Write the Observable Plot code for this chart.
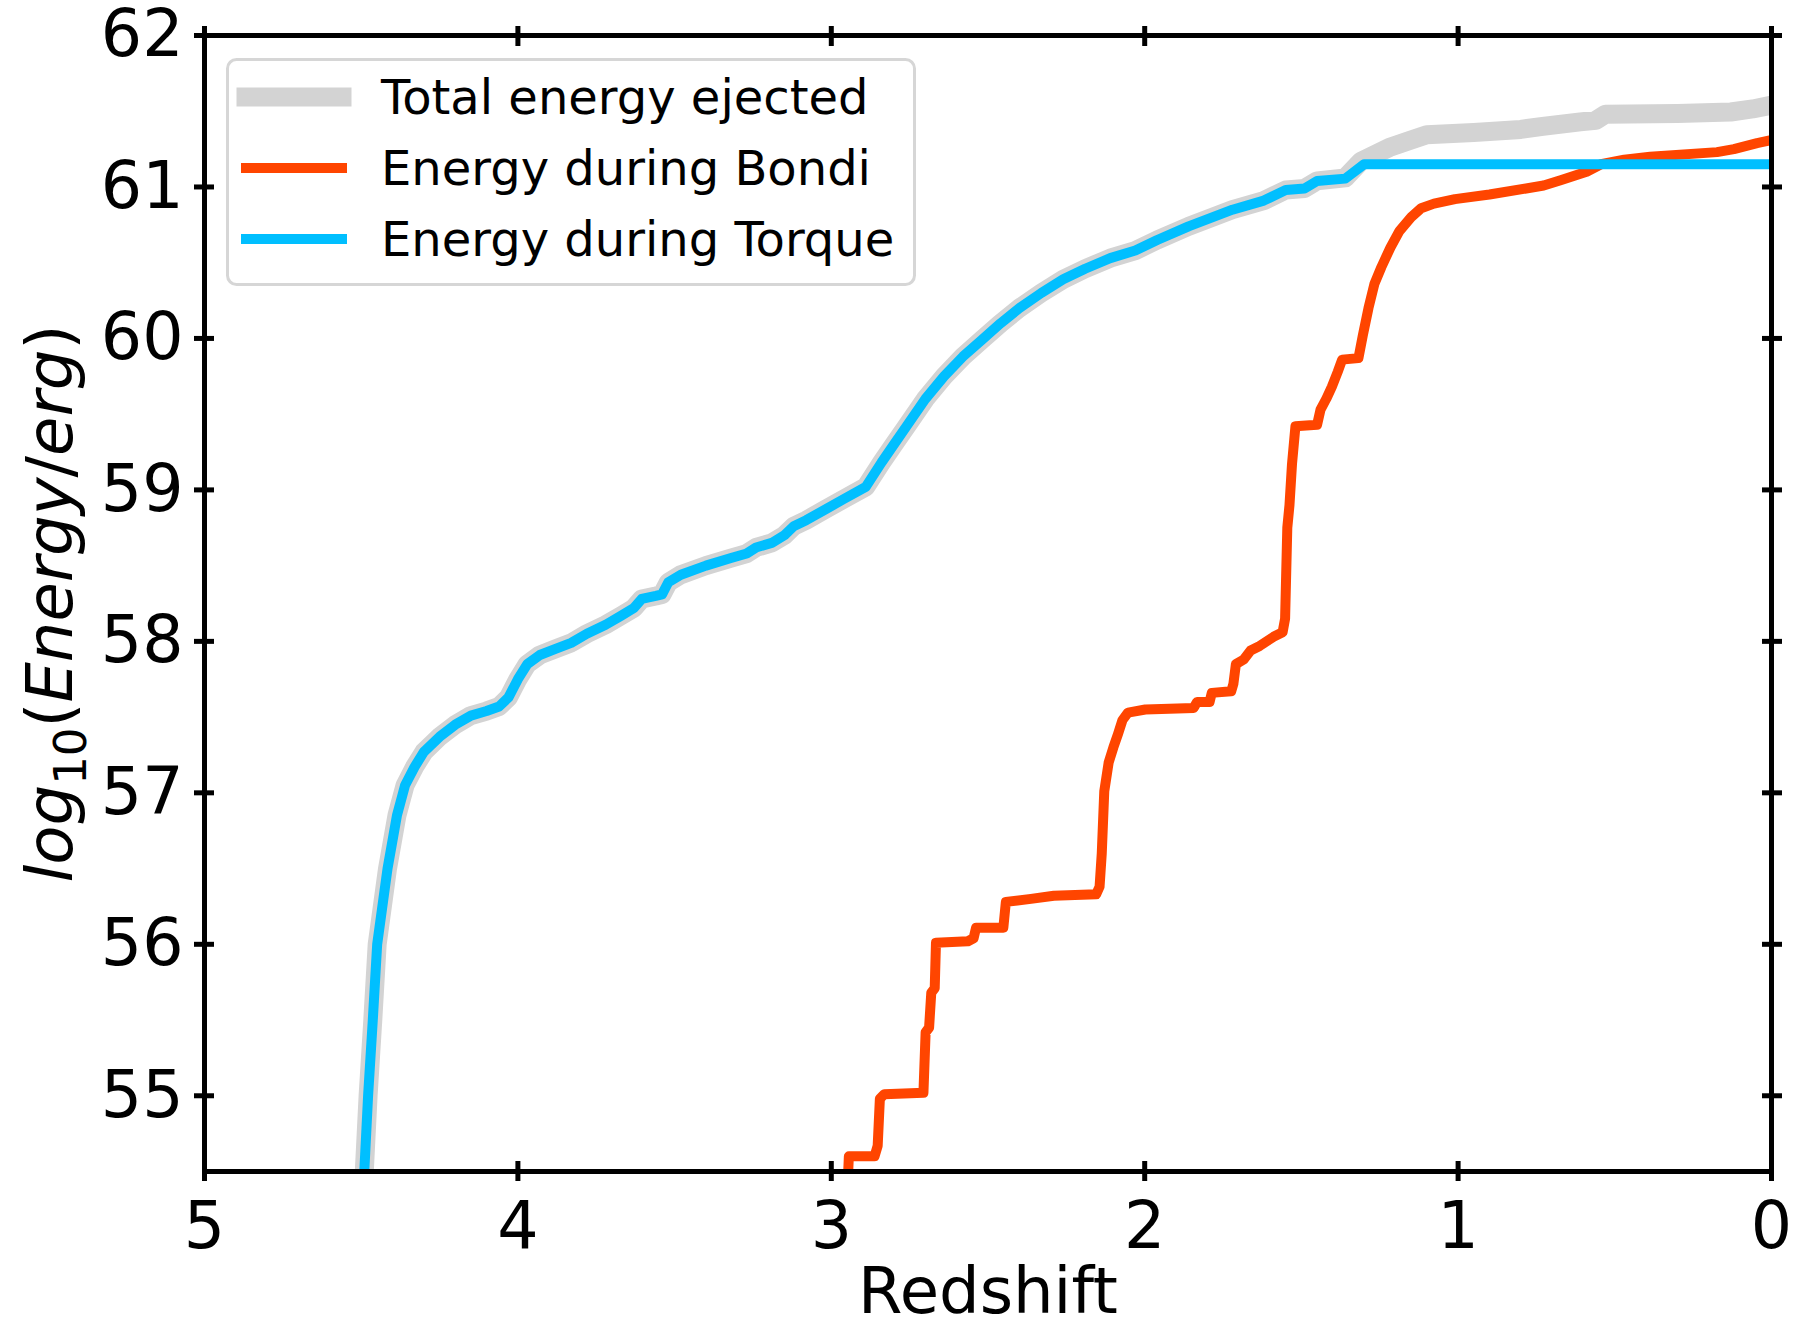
<!DOCTYPE html>
<html><head><meta charset="utf-8">
<script src="https://cdn.jsdelivr.net/npm/d3@7"></script>
<script src="https://cdn.jsdelivr.net/npm/@observablehq/plot@0.6"></script>
<style>
body{margin:0;background:#fff;}
#wrap{position:relative;width:1795px;height:1321px;font-family:"DejaVu Sans";}
#legend{position:absolute;left:226px;top:58px;}
</style></head><body><div id="wrap"></div>
<script>
// ---- data ----
const xTicks = [5, 4, 3, 2, 1, 0];
const yTicks = [55, 56, 57, 58, 59, 60, 61, 62];

const torqueZ = [4.495,4.478,4.463,4.449,4.416,4.386,4.36,4.33,4.30,4.25,4.20,4.15,4.10,4.06,4.03,4.00,3.97,3.93,3.88,3.83,3.78,3.72,3.67,3.63,3.605,3.56,3.54,3.52,3.48,3.40,3.32,3.27,3.24,3.19,3.15,3.12,3.08,3.02,2.96,2.89,2.84,2.80,2.76,2.70,2.64,2.58,2.52,2.46,2.40,2.33,2.26,2.19,2.11,2.03,1.96,1.86,1.72,1.62,1.55,1.49,1.45,1.36,1.30,0.0];
const torqueE = [54.3,55.0,55.5,56.0,56.5,56.85,57.05,57.17,57.27,57.37,57.45,57.51,57.54,57.57,57.63,57.75,57.85,57.91,57.95,57.99,58.05,58.11,58.17,58.22,58.28,58.3,58.31,58.39,58.44,58.5,58.55,58.58,58.62,58.65,58.7,58.76,58.8,58.87,58.94,59.02,59.18,59.3,59.42,59.6,59.75,59.88,59.99,60.1,60.2,60.3,60.39,60.46,60.53,60.58,60.65,60.74,60.85,60.91,60.98,60.99,61.04,61.055,61.15,61.15];

const totalZ = [4.495,4.478,4.463,4.449,4.416,4.386,4.36,4.33,4.30,4.25,4.20,4.15,4.10,4.06,4.03,4.00,3.97,3.93,3.88,3.83,3.78,3.72,3.67,3.63,3.605,3.56,3.54,3.52,3.48,3.40,3.32,3.27,3.24,3.19,3.15,3.12,3.08,3.02,2.96,2.89,2.84,2.80,2.76,2.70,2.64,2.58,2.52,2.46,2.40,2.33,2.26,2.19,2.11,2.03,1.96,1.86,1.72,1.62,1.55,1.49,1.45,1.36,1.31,1.22,1.15,1.10,0.95,0.80,0.73,0.61,0.56,0.53,0.30,0.13,0.06,0.0];
const totalE = [54.3,55.0,55.5,56.0,56.5,56.85,57.05,57.17,57.27,57.37,57.45,57.51,57.54,57.57,57.63,57.75,57.85,57.91,57.95,57.99,58.05,58.11,58.17,58.22,58.28,58.3,58.31,58.39,58.44,58.5,58.55,58.58,58.62,58.65,58.7,58.76,58.8,58.87,58.94,59.02,59.18,59.3,59.42,59.6,59.75,59.88,59.99,60.1,60.2,60.3,60.39,60.46,60.53,60.58,60.65,60.74,60.85,60.91,60.98,60.99,61.04,61.06,61.17,61.26,61.31,61.345,61.36,61.38,61.40,61.43,61.44,61.48,61.485,61.495,61.515,61.54];

const bondiZ = [2.95,2.944,2.862,2.852,2.845,2.831,2.706,2.699,2.688,2.681,2.670,2.666,2.564,2.546,2.538,2.451,2.443,2.363,2.290,2.155,2.144,2.137,2.129,2.115,2.100,2.085,2.071,2.053,1.998,1.844,1.833,1.793,1.786,1.724,1.717,1.709,1.684,1.662,1.633,1.589,1.560,1.552,1.545,1.538,1.530,1.519,1.450,1.439,1.421,1.403,1.384,1.370,1.318,1.304,1.286,1.267,1.245,1.216,1.187,1.150,1.118,1.077,1.01,0.90,0.783,0.727,0.673,0.59,0.544,0.47,0.387,0.174,0.12,0.046,0.0];
const bondiE = [54.3,54.6,54.6,54.67,54.98,55.01,55.02,55.42,55.45,55.68,55.71,56.01,56.02,56.04,56.11,56.11,56.28,56.30,56.32,56.33,56.38,56.6,57.01,57.2,57.3,57.39,57.48,57.53,57.55,57.56,57.6,57.6,57.66,57.67,57.72,57.85,57.88,57.94,57.97,58.03,58.06,58.15,58.75,58.9,59.17,59.42,59.43,59.53,59.6,59.68,59.78,59.86,59.87,60.02,60.2,60.36,60.47,60.6,60.71,60.8,60.86,60.89,60.92,60.95,60.99,61.01,61.045,61.1,61.15,61.18,61.2,61.23,61.25,61.29,61.31];

const seriesNames = ["Total energy ejected", "Energy during Bondi", "Energy during Torque"];
const seriesColors = ["#d3d3d3", "#ff4500", "#00bfff"];
const seriesWidths = [19, 10, 10];
const xLabel = "Redshift";
const yLabel = "log10(Energy/erg)";

// ---- build ----
const zs = [totalZ, bondiZ, torqueZ];
const es = [totalE, bondiE, torqueE];
const rows = zs.map((zArr, k) => zArr.map((z, i) => ({z, e: es[k][i]})));

const FS = 65;
const lineMarks = rows.map((r, k) => Plot.line(r, {
  x: "z", y: "e", stroke: seriesColors[k], strokeWidth: seriesWidths[k],
  strokeLinecap: "square", strokeLinejoin: "round", clip: true
}));

const tickStyle = {tickSize: 20, strokeWidth: 5, tickFormat: () => "", label: null};

const chart = Plot.plot({
  width: 1795, height: 1321,
  marginLeft: 204, marginRight: 24, marginTop: 35, marginBottom: 150,
  style: {fontFamily: "DejaVu Sans", background: "white", color: "black", overflow: "visible"},
  x: {domain: [5, 0]},
  y: {domain: [54.5, 62]},
  marks: [
    ...lineMarks,
    Plot.axisX({anchor: "bottom", ticks: xTicks, tickSize: 0, tickPadding: 30, fontSize: FS, label: null, tickFormat: d => String(d)}),
    Plot.axisY({anchor: "left", ticks: yTicks, tickSize: 0, tickPadding: 21, fontSize: FS, label: null, tickFormat: d => String(d)}),
    Plot.axisX({anchor: "bottom", ticks: xTicks, dy: -10, ...tickStyle}),
    Plot.axisX({anchor: "top", ticks: xTicks, dy: 10, ...tickStyle}),
    Plot.axisY({anchor: "left", ticks: yTicks, dx: 10, ...tickStyle}),
    Plot.axisY({anchor: "right", ticks: yTicks, dx: -10, ...tickStyle}),
    Plot.frame({stroke: "black", strokeWidth: 5}),
    Plot.text([xLabel], {frameAnchor: "bottom", dy: 141, fontSize: 64, text: d => d}),
    Plot.text([yLabel], {frameAnchor: "left", dx: -153, rotate: -90, fontSize: 64, textAnchor: "middle", text: d => d})
  ]
});

const wrap = document.getElementById("wrap");
wrap.appendChild(chart);

// mathtext-like y label
d3.select(chart).selectAll("text").filter(function() { return this.textContent === yLabel; })
  .each(function() {
    const t = d3.select(this);
    t.text("").attr("text-anchor", "middle").style("text-anchor", "middle");
    const parts = [
      ["log", "italic", null, 0],
      ["10", "normal", 45, 14],
      ["(", "normal", null, -14],
      ["Energy", "italic", null, 0],
      ["/", "normal", null, 0],
      ["erg", "italic", null, 0],
      [")", "normal", null, 0]
    ];
    parts.forEach(([s, st, sz, dy]) => {
      const sp = t.append("tspan").text(s).attr("font-style", st);
      if (sz) sp.attr("font-size", sz);
      if (dy) sp.attr("dy", dy);
    });
  });

// legend overlay
const legW = 690, legH = 228;
const leg = d3.select(wrap).append("svg").attr("id", "legend")
  .attr("width", legW).attr("height", legH)
  .style("font-family", "DejaVu Sans");
leg.append("rect").attr("x", 1.5).attr("y", 1.5).attr("width", legW - 3).attr("height", legH - 3)
  .attr("rx", 9).attr("fill", "white").attr("stroke", "#d6d6d6").attr("stroke-width", 3);
seriesNames.forEach((name, k) => {
  const cy = 39 + k * 71;
  leg.append("line").attr("x1", 20).attr("x2", 116).attr("y1", cy).attr("y2", cy)
    .attr("stroke", seriesColors[k]).attr("stroke-width", seriesWidths[k]).attr("stroke-linecap", "square");
  leg.append("text").attr("x", 155).attr("y", cy + 17).attr("font-size", 48).attr("fill", "black").text(name);
});
</script></body></html>
